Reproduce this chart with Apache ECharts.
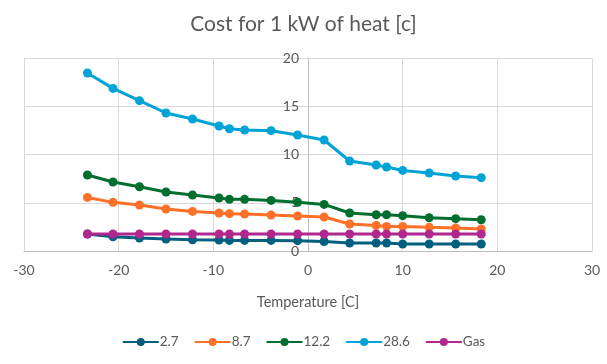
<!DOCTYPE html>
<html>
<head>
<meta charset="utf-8">
<script src="https://cdn.jsdelivr.net/npm/echarts@6/dist/echarts.min.js"></script>
<style>html,body{margin:0;padding:0;background:#fff}#c{width:607px;height:364px}</style>
</head>
<body>
<div id="c"></div>
<script>
const temps = [-23.3, -20.6, -17.8, -15.0, -12.2, -9.4, -8.3, -6.7, -3.9, -1.1, 1.7, 4.4, 7.2, 8.3, 10.0, 12.8, 15.6, 18.3];
const s27  = [1.76, 1.48, 1.35, 1.24, 1.17, 1.14, 1.10, 1.10, 1.10, 1.07, 0.99, 0.83, 0.83, 0.83, 0.73, 0.73, 0.73, 0.73];
const s87  = [5.55, 5.04, 4.77, 4.35, 4.10, 3.94, 3.87, 3.83, 3.73, 3.63, 3.52, 2.80, 2.65, 2.55, 2.55, 2.45, 2.38, 2.28];
const s122 = [7.88, 7.15, 6.66, 6.11, 5.80, 5.49, 5.35, 5.35, 5.24, 5.04, 4.83, 3.94, 3.76, 3.76, 3.66, 3.45, 3.35, 3.24];
const s286 = [18.45, 16.85, 15.58, 14.30, 13.68, 12.95, 12.67, 12.54, 12.47, 12.02, 11.50, 9.33, 8.91, 8.70, 8.35, 8.08, 7.77, 7.60];
const gas  = [1.76, 1.76, 1.76, 1.76, 1.76, 1.76, 1.76, 1.76, 1.76, 1.76, 1.76, 1.76, 1.76, 1.76, 1.76, 1.76, 1.76, 1.76];
const seriesNames = ['2.7', '8.7', '12.2', '28.6', 'Gas'];
const seriesValues = [s27, s87, s122, s286, gas];
const colors = ['#005f7f', '#ff7028', '#006e2e', '#00a3d6', '#b0288e'];

const font = 'Lato, "Open Sans", sans-serif';
const gridLeft = 24, gridRight = 15, chartW = 607;
const zeroOffset = -((chartW - gridLeft - gridRight) / 2);
const chart = echarts.init(document.getElementById('c'));
chart.setOption({
  animation: false,
  color: colors,
  title: {
    text: 'Cost for 1 kW of heat [c]',
    left: 'center', top: 9,
    textStyle: { fontFamily: font, fontSize: 21, fontWeight: 'normal', color: '#595959' }
  },
  legend: {
    bottom: 10, left: 'center',
    itemWidth: 36, itemHeight: 10, itemGap: 15,
    textStyle: { fontFamily: font, fontSize: 13.5, color: '#595959', padding: [0,0,0,-4] },
    data: seriesNames
  },
  grid: { left: gridLeft, right: gridRight, top: 58, bottom: 113, containLabel: false },
  xAxis: {
    type: 'value', min: -30, max: 30, interval: 10,
    name: 'Temperature [C]', nameLocation: 'middle', nameGap: 44,
    nameTextStyle: { fontFamily: font, fontSize: 14.5, color: '#595959' },
    axisLine: { show: true, onZero: false, lineStyle: { color: '#bfbfbf', width: 1 } },
    axisTick: { show: false },
    axisLabel: { fontFamily: font, fontSize: 14, color: '#595959', margin: 12 },
    splitLine: { show: true, lineStyle: { color: '#d9d9d9', width: 1 } }
  },
  yAxis: {
    type: 'value', min: 0, max: 20, interval: 5,
    position: 'left', offset: zeroOffset,
    axisLine: { show: true, onZero: false, lineStyle: { color: '#bfbfbf', width: 1 } },
    axisTick: { show: false },
    axisLabel: { fontFamily: font, fontSize: 14, color: '#595959', margin: 9 },
    splitLine: { show: true, lineStyle: { color: '#d9d9d9', width: 1 } }
  },
  series: seriesNames.map((n, i) => ({
    name: n, type: 'line',
    data: temps.map((t, j) => [t, seriesValues[i][j]]),
    symbol: 'circle', symbolSize: 9,
    lineStyle: { width: 3 },
    itemStyle: { color: colors[i] },
    z: i === 4 ? 3 : 2
  }))
});
</script>
</body>
</html>
